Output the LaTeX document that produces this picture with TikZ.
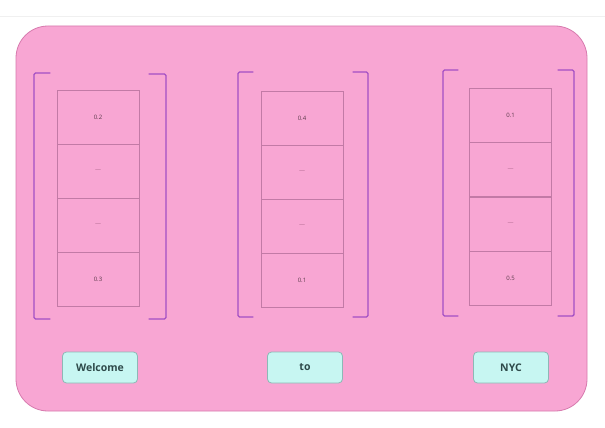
\documentclass[tikz,border=0pt]{standalone}
\usepackage{fontspec}
\setmainfont{Open Sans}
\definecolor{bgpink}{HTML}{F8A6D3}
\definecolor{pinkborder}{HTML}{D77AAE}
\definecolor{cellline}{HTML}{C27AA6}
\definecolor{brack}{HTML}{A24FC4}
\definecolor{btnfill}{HTML}{C7F6F2}
\definecolor{btnline}{HTML}{8DB8B6}
\definecolor{btntext}{HTML}{2E4A4A}
\definecolor{numtext}{HTML}{5A3A4A}
\definecolor{dashtext}{HTML}{B06A90}
\tikzset{
  cellbox/.style={draw=cellline, line width=0.8pt, minimum width=82pt, minimum height=54pt, inner sep=0pt, font=\fontsize{6}{7}\selectfont, text=numtext},
  dashbox/.style={cellbox, text=dashtext},
  bracketline/.style={draw=brack, line width=1.4pt, line cap=round, rounded corners=1.5pt},
  wordbtn/.style={draw=btnline, fill=btnfill, line width=0.8pt, rounded corners=4pt, minimum width=75pt, minimum height=31pt, inner sep=0pt, font=\fontsize{10.5}{12}\selectfont\bfseries, text=btntext}
}
\begin{document}
\begin{tikzpicture}[x=1pt,y=-1pt]
\useasboundingbox (0,0) rectangle (605,428);
\fill[white] (0,0) rectangle (605,428);
\draw[black!6, line width=0.6pt] (0,16) -- (605,16);
\draw[draw=pinkborder, fill=bgpink, line width=0.8pt, rounded corners=32pt] (16,26) rectangle (587,411);

% column 1
\node[cellbox] (a1) at (98,117) {0.2};
\node[dashbox] (a2) at (98,171) {—};
\node[dashbox] (a3) at (98,225) {—};
\node[cellbox] (a4) at (98,279.5) {0.3};
\draw[bracketline] (50,73) -- (34,73) -- (34,319) -- (50,319);
\draw[bracketline] (149,74) -- (166,74) -- (166,319) -- (149,319);

% column 2
\node[cellbox] (b1) at (302,118) {0.4};
\node[dashbox] (b2) at (302,172) {—};
\node[dashbox] (b3) at (302,226) {—};
\node[cellbox] (b4) at (302,280) {0.1};
\draw[bracketline] (253,72) -- (238,72) -- (238,317) -- (253,317);
\draw[bracketline] (353,72) -- (368,72) -- (368,317) -- (353,317);

% column 3
\node[cellbox] (c1) at (510.5,115) {0.1};
\node[dashbox] (c2) at (510.5,169.5) {—};
\node[dashbox] (c3) at (510.5,224) {—};
\node[cellbox] (c4) at (510.5,278) {0.5};
\draw[bracketline] (458,70) -- (443,70) -- (443,316) -- (458,316);
\draw[bracketline] (558,70) -- (574,70) -- (574,316) -- (558,316);

% words
\node[wordbtn] (w1) at (100,367.5) {Welcome};
\node[wordbtn] (w2) at (305,367.5) {to};
\node[wordbtn] (w3) at (511,367.5) {NYC};
\end{tikzpicture}
\end{document}
